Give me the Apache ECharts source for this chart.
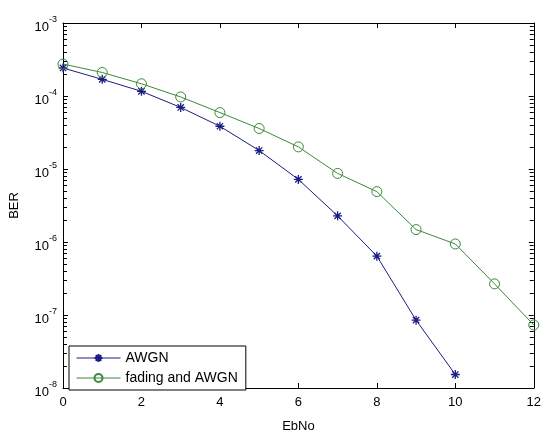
<!DOCTYPE html>
<html>
<head>
<meta charset="utf-8">
<script src="https://cdn.jsdelivr.net/npm/echarts@6/dist/echarts.min.js"></script>
<style>html,body{margin:0;padding:0;background:#fff;}#c{width:544px;height:438px;}</style>
</head>
<body>
<div id="c"></div>
<script>
// ---- data ----
const ebno = [0, 1, 2, 3, 4, 5, 6, 7, 8, 9, 10, 11, 12];
const awgnBer = [2.42e-4, 1.69e-4, 1.16e-4, 6.97e-5, 3.85e-5, 1.79e-5, 7.2e-6, 2.28e-6, 6.4e-7, 8.5e-8, 1.53e-8];
const fadingBer = [2.74e-4, 2.10e-4, 1.47e-4, 9.7e-5, 5.93e-5, 3.59e-5, 2.01e-5, 8.7e-6, 4.9e-6, 1.48e-6, 9.4e-7, 2.67e-7, 7.3e-8];
const seriesNames = ['AWGN', 'fading and AWGN'];
const yDecades = [-8, -7, -6, -5, -4, -3];
const xTicks = [0, 2, 4, 6, 8, 10, 12];

// minor tick values (2..9 x 10^k) for log axis decoration
const minorVals = [];
for (let k = -8; k < -3; k++) {
  for (let m = 2; m <= 9; m++) minorVals.push([0, m * Math.pow(10, k)]);
}

const FONT = 'Liberation Sans, Arial, sans-serif';
const BLUE = '#1c1c86';
const GREEN = '#3a8a3a';
const asterisk = 'path://M5,0L5,10M0,5L10,5M1.5,1.5L8.5,8.5M1.5,8.5L8.5,1.5';

const chart = echarts.init(document.getElementById('c'), null, {renderer: 'canvas'});

const axisLineStyle = {color: '#000', width: 1};

chart.setOption({
  backgroundColor: '#fff',
  animation: false,
  grid: {left: 62, right: 6, top: 23, bottom: 39, containLabel: false},
  legend: {
    data: seriesNames,
    orient: 'vertical',
    left: 69,
    top: 346,
    z: 10,
    itemWidth: 44,
    itemHeight: 10,
    itemGap: 6,
    padding: [5, 8, 5, 7],
    borderColor: '#000',
    borderWidth: 1,
    backgroundColor: '#fff',
    lineStyle: {width: 1},
    textStyle: {fontFamily: FONT, fontSize: 14, color: '#000'}
  },
  xAxis: [{
    type: 'value',
    min: 0, max: 12, interval: 2,
    name: 'EbNo',
    nameLocation: 'middle',
    nameGap: 32,
    nameTextStyle: {fontFamily: FONT, fontSize: 13, color: '#000'},
    axisLine: {show: true, onZero: false, lineStyle: axisLineStyle},
    axisTick: {show: true, inside: true, length: 5, lineStyle: axisLineStyle},
    axisLabel: {fontFamily: FONT, fontSize: 13, color: '#000', margin: 8,
      formatter: v => String(v)},
    splitLine: {show: false}
  }, {
    type: 'value',
    position: 'top',
    min: 0, max: 12, interval: 2,
    axisLine: {show: true, onZero: false, lineStyle: axisLineStyle},
    axisTick: {show: true, inside: true, length: 5, lineStyle: axisLineStyle},
    axisLabel: {show: false},
    splitLine: {show: false}
  }],
  yAxis: [{
    type: 'log',
    logBase: 10,
    min: 1e-8, max: 1e-3,
    interval: 1,
    name: 'BER',
    nameLocation: 'middle',
    nameGap: 42,
    nameRotate: 90,
    nameTextStyle: {fontFamily: FONT, fontSize: 13, color: '#000'},
    axisLine: {show: true, onZero: false, lineStyle: axisLineStyle},
    axisTick: {show: true, inside: true, length: 5, lineStyle: axisLineStyle},
    axisLabel: {
      margin: 6,
      formatter: v => {
        const e = Math.round(Math.log10(v));
        return '{b|10}{s|' + e + '}';
      },
      rich: {
        b: {fontFamily: FONT, fontSize: 13, color: '#000', padding: [8, 0, 0, 0]},
        s: {fontFamily: FONT, fontSize: 9, color: '#000', padding: [0, 0, 6, 0]}
      }
    },
    splitLine: {show: false}
  }, {
    type: 'log',
    logBase: 10,
    min: 1e-8, max: 1e-3,
    interval: 1,
    position: 'right',
    axisLine: {show: true, onZero: false, lineStyle: axisLineStyle},
    axisTick: {show: true, inside: true, length: 5, lineStyle: axisLineStyle},
    axisLabel: {show: false},
    splitLine: {show: false}
  }],
  series: [{
    name: 'minorTicks',
    type: 'custom',
    silent: true,
    clip: false,
    xAxisIndex: 0,
    yAxisIndex: 0,
    data: minorVals,
    z: 2,
    renderItem: (params, api) => {
      const cs = params.coordSys;
      const p = api.coord([0, api.value(1)]);
      const y = Math.round(p[1]) + 0.5;
      return {
        type: 'group',
        children: [
          {type: 'line', shape: {x1: cs.x, y1: y, x2: cs.x + 4, y2: y}, style: {stroke: '#000', lineWidth: 1}},
          {type: 'line', shape: {x1: cs.x + cs.width - 4, y1: y, x2: cs.x + cs.width, y2: y}, style: {stroke: '#000', lineWidth: 1}}
        ]
      };
    }
  }, {
    name: seriesNames[0],
    type: 'line',
    data: awgnBer.map((v, i) => [ebno[i], v]),
    color: BLUE,
    lineStyle: {color: BLUE, width: 1},
    symbol: asterisk,
    symbolSize: 9,
    showAllSymbol: true,
    itemStyle: {color: BLUE, borderColor: BLUE, borderWidth: 1.3},
    z: 3
  }, {
    name: seriesNames[1],
    type: 'line',
    data: fadingBer.map((v, i) => [ebno[i], v]),
    color: GREEN,
    lineStyle: {color: GREEN, width: 1},
    symbol: 'circle',
    symbolSize: 10,
    showAllSymbol: true,
    itemStyle: {color: 'rgba(0,0,0,0)', borderColor: GREEN, borderWidth: 1},
    z: 3
  }]
});
</script>
</body>
</html>
